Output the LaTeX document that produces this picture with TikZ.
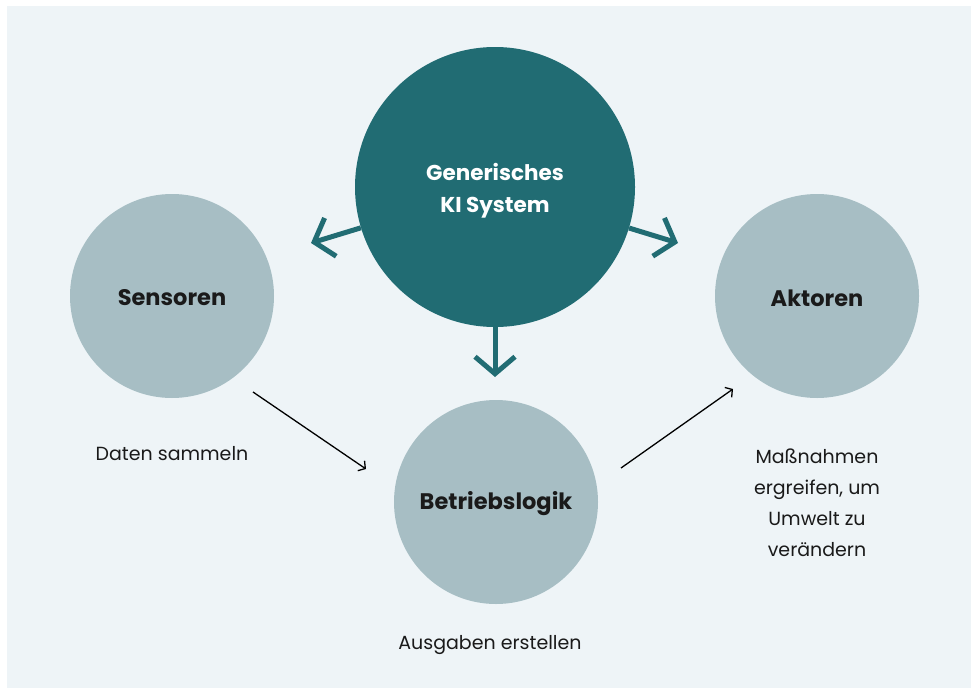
\documentclass[tikz,border=0pt]{standalone}
\usepackage{fontspec}
\setmainfont{Poppins}
\usetikzlibrary{arrows.meta}
\definecolor{bgc}{HTML}{EEF4F7}
\definecolor{teal}{HTML}{216C73}
\definecolor{lightc}{HTML}{A7BEC4}
\definecolor{txt}{HTML}{1A1A1A}
\tikzset{
  big/.style={circle, fill=teal, minimum size=280pt, inner sep=0pt, text=white, font=\fontsize{21.5}{32}\selectfont\bfseries, align=center},
  small/.style={circle, fill=lightc, minimum size=204pt, inner sep=0pt, text=txt, font=\fontsize{22.5}{32}\selectfont\bfseries},
  label/.style={text=txt, font=\fontsize{19}{31}\selectfont, align=center, inner sep=0pt},
  thick arrow/.style={draw=teal, line width=5pt, -{Straight Barb[length=17pt, width=40pt, line width=5pt]}},
  thin arrow/.style={draw=black, line width=1.3pt, -{Straight Barb[length=5pt, width=12pt, line width=1.3pt]}}
}
\begin{document}
\begin{tikzpicture}[x=1pt, y=-1pt]
\useasboundingbox (0,0) rectangle (971,688);
\fill[white] (0,0) rectangle (971,688);
\fill[bgc] (7,6) rectangle (971,688);
\node[big] (ki) at (495,187) {};
\node[text=white, font=\fontsize{21.5}{32}\selectfont\bfseries, align=center] (kit) at (495,191) {Generisches\\KI System};
\node[small] (sen) at (172,296) {};
\node[font=\fontsize{22.5}{32}\selectfont\bfseries, text=txt] at (172,298) {Sensoren};
\node[small] (akt) at (817,296) {};
\node[font=\fontsize{22.5}{32}\selectfont\bfseries, text=txt] at (817,298) {Aktoren};
\node[small] (bl) at (496,502) {};
\node[font=\fontsize{22.5}{32}\selectfont\bfseries, text=txt] at (496,504) {Betriebslogik};
\node[label] (ls) at (172,454) {Daten sammeln};
\node[label] (lb) at (490,645) {Ausgaben erstellen};
\node[label] (la) at (817,503) {Maßnahmen\\ergreifen, um\\Umwelt zu\\verändern};
\coordinate (kil) at (311,243);
\coordinate (kir) at (678,243);
\coordinate (kid) at (495,377);
\draw[thick arrow] (ki) -- (kil);
\draw[thick arrow] (ki) -- (kir);
\draw[thick arrow] (ki.south) -- (kid);
\coordinate (s1) at (253,392);
\coordinate (s2) at (366,469);
\coordinate (b1) at (621,468);
\coordinate (b2) at (733,389);
\draw[thin arrow] (s1) -- (s2);
\draw[thin arrow] (b1) -- (b2);
\end{tikzpicture}
\end{document}
